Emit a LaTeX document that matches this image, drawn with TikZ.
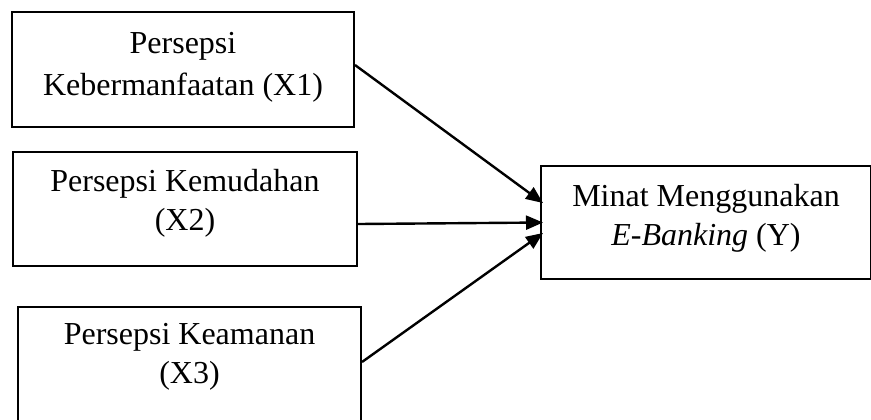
\documentclass[tikz,border=0pt]{standalone}
\usepackage{fontspec}
\setmainfont{Liberation Serif}
\usetikzlibrary{arrows.meta}

\begin{document}
\begin{tikzpicture}[x=0.5pt, y=-0.5pt,
		kotak/.style={draw, line width=1pt, rectangle, align=center, anchor=base, inner xsep=0pt, inner ysep=0pt, minimum height=0pt, font=\fontsize{16}{19.5}\selectfont},
		panah/.style={line width=1.2pt, -{Triangle[length=8.5pt, width=7pt]}}]
			\useasboundingbox (0,0) rectangle (871,419);

			\draw (183,95) node (x1) [kotak, minimum width=171pt, text height=41.5pt, text depth=16pt, font=\fontsize{16}{21}\selectfont] {Persepsi\\Kebermanfaatan (X1)};
			\draw (185,230) node (x2) [kotak, minimum width=172pt, text height=39pt, text depth=18pt] {Persepsi Kemudahan\\(X2)};
			\draw (189.5,383) node (x3) [kotak, minimum width=171.5pt, text height=38pt, text depth=23.5pt] {Persepsi Keamanan\\(X3)};

			\draw (706,245) node (y) [kotak, minimum width=165pt, text height=39.5pt, text depth=17pt] {Minat Menggunakan\\\textit{E-Banking} (Y)};

			\draw[panah] ([yshift=2.25pt]x1.east) -- ([xshift=1.5pt, yshift=9.75pt]y.west);
			\draw[panah] ([yshift=-7.5pt]x2.east) -- ([xshift=1.5pt]y.west);
			\draw[panah] ([yshift=3.25pt]x3.east) -- ([xshift=1.5pt, yshift=-5.25pt]y.west);

		\end{tikzpicture}
\end{document}
